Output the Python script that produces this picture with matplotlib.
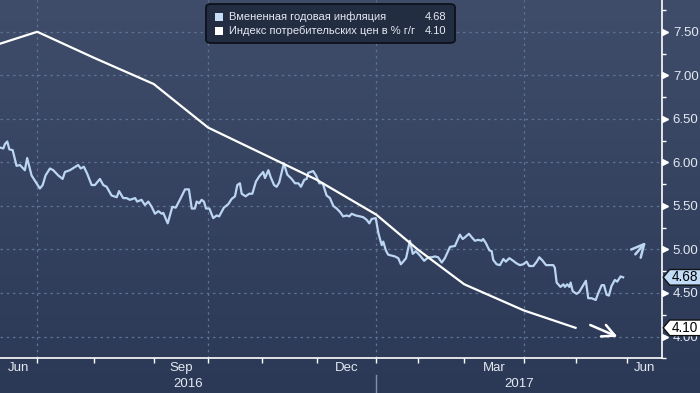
import matplotlib
matplotlib.use("Agg")
import matplotlib.pyplot as plt
import matplotlib.transforms as mtransforms
from matplotlib.patches import FancyBboxPatch, Polygon, Rectangle
import numpy as np

plt.rcParams['font.family'] = ['Liberation Sans', 'DejaVu Sans']

# x is a trading-day index, 0 = 1 Jul 2016
# month boundaries (first trading day of month), Jul 2016 .. Jun 2017
month_starts = [0, 22, 45, 66, 87, 108, 131, 147, 165, 188, 208, 228]
quarter_lines = [0, 66, 131, 188]
month_labels = ['Jun', 'Sep', 'Dec', 'Mar', 'Jun']
year_labels = ['2016', '2017']

# CPI y/y, monthly (plotted at month end)
cpi_x = [-21, 0, 22, 45, 66, 87, 108, 131, 147, 165, 188, 208]
cpi_y = [7.3, 7.5, 7.2, 6.9, 6.4, 6.1, 5.8, 5.4, 5.0, 4.6, 4.3, 4.1]

# implied annual inflation, daily
blue_x = [-14.4, -13.1, -12.5, -11.6, -10.8, -9.5, -8.0, -6.7, -4.8, -3.9, -2.2, -0.9,
          1.0, 2.1, 3.2, 4.9, 6.2, 8.1, 9.8, 10.7, 12.6, 15.8, 16.8, 18.0, 19.3, 21.0,
          22.3, 24.2, 25.5, 26.8, 28.7, 30.7, 31.6, 33.2, 34.5, 35.8, 37.8, 38.6, 40.3,
          41.6, 42.9, 44.2, 45.5, 46.8, 48.1, 48.7, 50.4, 52.2, 53.5, 55.1, 57.1, 58.6,
          59.7, 60.9, 61.6, 62.6, 63.5, 64.4, 65.2, 66.5, 68.0, 69.3, 70.3, 72.1, 73.8,
          75.1, 76.4, 77.3, 78.3, 79.0, 80.5, 81.9, 83.1, 84.5, 85.8, 87.3, 88.0, 89.3,
          90.2, 91.5, 92.5, 93.5, 95.3, 96.6, 98.3, 99.6, 100.9, 101.9, 103.2, 104.1,
          104.7, 106.6, 107.7, 109.0, 110.3, 111.8, 113.1, 114.4, 115.7, 117.0, 118.2,
          119.6, 120.6, 121.5, 123.1, 124.7, 126.0, 127.3, 128.3, 129.2, 130.8, 131.8,
          133.1, 133.7, 134.7, 135.6, 136.9, 138.2, 139.5, 140.5, 141.4, 142.5, 144.0,
          145.1, 146.3, 147.9, 149.5, 151.1, 152.4, 153.7, 154.9, 156.3, 157.5, 159.5,
          161.4, 163.3, 164.4, 165.3, 166.8, 167.9, 169.1, 170.4, 171.7, 172.3, 173.4,
          174.7, 175.6, 176.2, 177.5, 178.8, 180.1, 181.1, 182.4, 183.9, 185.2, 186.5,
          187.8, 189.1, 190.1, 191.7, 193.0, 194.0, 195.3, 196.6, 198.1, 199.4, 200.0,
          200.7, 202.2, 203.3, 203.9, 204.8, 205.6, 206.1, 206.9, 208.4, 209.4, 210.4,
          212.0, 212.9, 214.2, 215.8, 216.8, 218.1, 219.0, 220.0, 220.9, 221.9, 223.2,
          224.1, 225.4, 226.4]
blue_y = [6.17, 6.16, 6.21, 6.24, 6.15, 6.14, 5.96, 5.97, 5.91, 6.05, 5.85, 5.79,
          5.70, 5.74, 5.85, 5.93, 5.91, 5.85, 5.81, 5.89, 5.91, 5.97, 5.93, 5.95, 5.87, 5.74,
          5.74, 5.81, 5.74, 5.72, 5.62, 5.60, 5.67, 5.59, 5.59, 5.57, 5.59, 5.55, 5.57,
          5.51, 5.55, 5.49, 5.41, 5.44, 5.41, 5.42, 5.30, 5.49, 5.48, 5.57, 5.69, 5.69,
          5.47, 5.47, 5.55, 5.53, 5.57, 5.55, 5.47, 5.47, 5.36, 5.39, 5.38, 5.48, 5.52,
          5.58, 5.61, 5.74, 5.76, 5.64, 5.61, 5.64, 5.64, 5.78, 5.84, 5.89, 5.82, 5.91,
          5.83, 5.74, 5.72, 5.77, 5.99, 5.86, 5.81, 5.76, 5.76, 5.72, 5.80, 5.81,
          5.88, 5.90, 5.85, 5.76, 5.76, 5.62, 5.59, 5.50, 5.47, 5.43, 5.38,
          5.39, 5.38, 5.41, 5.39, 5.38, 5.37, 5.34, 5.30, 5.35, 5.36, 5.19,
          5.05, 5.09, 4.99, 4.94, 4.93, 4.92, 4.90, 4.83, 4.86, 4.90, 5.10,
          4.95, 4.98, 4.93, 4.87, 4.91, 4.91, 4.92, 4.91, 4.85, 4.90, 5.03,
          5.04, 5.17, 5.12, 5.14, 5.18, 5.14, 5.10, 5.11, 5.10, 5.12, 5.07,
          4.99, 4.98, 4.88, 4.83, 4.82, 4.89, 4.86, 4.90, 4.87, 4.84, 4.82,
          4.83, 4.86, 4.81, 4.81, 4.86, 4.91, 4.87, 4.82, 4.82, 4.82, 4.79,
          4.62, 4.57, 4.60, 4.57, 4.60, 4.57, 4.62, 4.52, 4.49, 4.51, 4.56,
          4.64, 4.44, 4.44, 4.42, 4.50, 4.59, 4.59, 4.48, 4.47, 4.58, 4.65,
          4.63, 4.69, 4.68]

blue_name = 'Вмененная годовая инфляция'
cpi_name = 'Индекс потребительских цен в % г/г'

y_ticks = [4.0, 4.5, 5.0, 5.5, 6.0, 6.5, 7.0, 7.5]
y_minor = [3.75, 4.25, 4.75, 5.25, 5.75, 6.25, 6.75, 7.25, 7.75]

BLUE = '#bcd6f2'
TXT = '#e4e9f2'
GRID = '#5e7390'

W, H = 700, 393
fig = plt.figure(figsize=(7, 3.93), dpi=100)

# background gradient
bg = fig.add_axes([0, 0, 1, 1], zorder=-1)
grad = np.linspace(0, 1, 256).reshape(-1, 1)
top_c = np.array([0x3f, 0x4d, 0x6a]) / 255
bot_c = np.array([0x2b, 0x39, 0x56]) / 255
img = top_c * (1 - grad[..., None]) + bot_c * grad[..., None]
img = np.repeat(img, 2, axis=1)
bg.imshow(img, aspect='auto', extent=[0, 1, 0, 1])
bg.axis('off')

ax = fig.add_axes([0, 0.0883, 0.9453, 0.9117])
ax.set_facecolor('none')
ax.set_xlim(-14.4, 241.3)
ax.set_ylim(3.779, 7.865)

for v in y_ticks:
    ax.axhline(v, color=GRID, lw=0.9, ls=(0, (2, 3)), zorder=1)
for q in quarter_lines:
    ax.axvline(q, color=GRID, lw=0.9, ls=(0, (2, 3)), zorder=1)

ax.plot(blue_x, blue_y, color=BLUE, lw=1.6, zorder=3)
ax.plot(cpi_x, cpi_y, color='white', lw=1.6, zorder=4)

# arrows
ax.annotate('', xy=(235.9, 5.11), xytext=(230.4, 4.92),
            arrowprops=dict(arrowstyle='->,head_length=0.5,head_width=0.25',
                            color=BLUE, lw=1.8, mutation_scale=18),
            annotation_clip=False)
ax.annotate('', xy=(225.2, 3.985), xytext=(212.7, 4.145),
            arrowprops=dict(arrowstyle='->,head_length=0.5,head_width=0.25',
                            color='white', lw=1.8, mutation_scale=18),
            annotation_clip=False)

# spines
for s in ['top', 'left']:
    ax.spines[s].set_visible(False)
for s in ['bottom', 'right']:
    ax.spines[s].set_color('white')
    ax.spines[s].set_linewidth(1.2)

ax.yaxis.tick_right()
ax.set_yticks(y_ticks)
ax.set_yticklabels([f'{v:.2f}' for v in y_ticks])
ax.set_yticks(y_minor, minor=True)
ax.tick_params(axis='y', which='major', length=0, pad=8, labelsize=9.5, labelcolor=TXT)
ax.tick_params(axis='y', which='minor', length=3, width=1, color='white', direction='out')
tri = mtransforms.offset_copy(mtransforms.blended_transform_factory(ax.transAxes, ax.transData),
                              fig=fig, x=3.5, units='dots')
ax.plot([1.0] * len(y_ticks), y_ticks, transform=tri, ls='none', marker='>',
        ms=4.5, color='white', clip_on=False, zorder=5)

ax.set_xticks(month_starts)
ax.set_xticklabels([])
ax.tick_params(axis='x', length=3.5, width=1, color='white', direction='out')

# month / year labels centred on visible part of period
x0, x1 = ax.get_xlim()
bounds = [x0] + month_starts + [x1]
# Jun, Sep, Dec, Mar, Jun -> indices into bounds
spans = [(0, 1), (3, 4), (6, 7), (9, 10), (12, 13)]
xb = mtransforms.blended_transform_factory(ax.transData, ax.transAxes)
for lab, (i, j) in zip(month_labels, spans):
    ax.text((bounds[i] + bounds[j]) / 2, -0.027, lab, transform=xb, ha='center', va='center',
            color=TXT, fontsize=9.5)
year_split = month_starts[6]
for lab, (a, b) in zip(year_labels, [(x0, year_split), (year_split, x1)]):
    ax.text((a + b) / 2, -0.072, lab, transform=xb, ha='center', va='center',
            color=TXT, fontsize=9.5)
ax.plot([year_split, year_split], [-0.047, -0.1], transform=xb, color='#8391a8',
        lw=1, clip_on=False)


def fx(px):
    return px / W


def fy(py):
    return 1 - py / H


# value tags on the right axis
fig.canvas.draw()
for val, face in [(blue_y[-1], '#c2dcf8'), (cpi_y[-1], 'white')]:
    _, ypix = ax.transData.transform((0, val))
    xs = ax.transAxes.transform((1, 0))[0]
    yc = ypix / H
    h = 7.8 / H
    pts = [(fx(xs + 1.5), yc), (fx(xs + 8), yc + h), (fx(W + 2), yc + h),
           (fx(W + 2), yc - h), (fx(xs + 8), yc - h)]
    fig.patches.append(Polygon(pts, closed=True, transform=fig.transFigure,
                               facecolor=face, edgecolor='#111111', lw=1, zorder=5))
    fig.text(fx(xs + 10), yc, f'{val:.2f}', ha='left', va='center', fontsize=9.8,
             color='black', zorder=6)

# legend box
fig.patches.append(FancyBboxPatch((fx(206), fy(43)), fx(455) - fx(206), fy(4) - fy(43),
                                  boxstyle='round,pad=0,rounding_size=0.008',
                                  transform=fig.transFigure, facecolor='#232d42',
                                  edgecolor='#0c111b', lw=1.3, zorder=5))
for i, (name, val, col) in enumerate([(blue_name, blue_y[-1], '#c6ddf7'),
                                      (cpi_name, cpi_y[-1], 'white')]):
    yc = 17 + i * 14
    fig.patches.append(Rectangle((fx(215), fy(yc + 4)), fx(8), 8 / H,
                                 transform=fig.transFigure, facecolor=col,
                                 edgecolor='none', zorder=6))
    fig.text(fx(229), fy(yc), name, ha='left', va='center', fontsize=8, color=TXT, zorder=6)
    fig.text(fx(446), fy(yc), f'{val:.2f}', ha='right', va='center', fontsize=8,
             color=TXT, zorder=6)

fig.savefig('out.png', dpi=100)
